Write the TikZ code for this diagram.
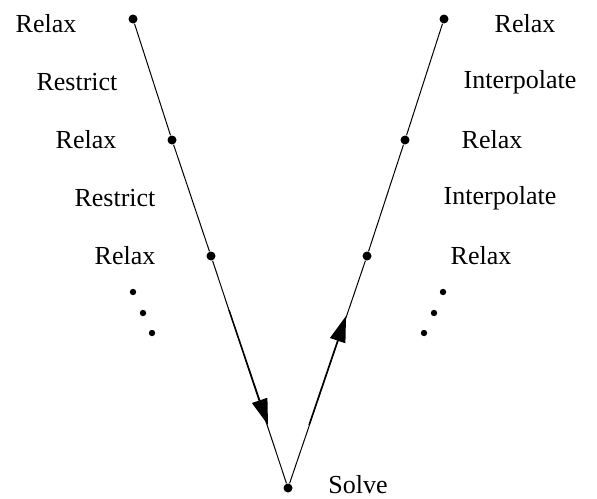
\documentclass[tikz,border=0pt]{standalone}
\usepackage{fontspec}
\setmainfont{Liberation Serif}
\usetikzlibrary{arrows.meta}
\begin{document}
\begin{tikzpicture}[x=0.5pt,y=-0.5pt,
  dot/.style={circle,fill=black,inner sep=0pt,minimum size=4.5pt},
  sdot/.style={circle,fill=black,inner sep=0pt,minimum size=3.2pt},
  lab/.style={font=\fontsize{13}{15}\selectfont,inner sep=0pt},
  ln/.style={line width=0.5pt},
  arr/.style={line width=0.7pt,-{Triangle[length=13pt,width=8pt]}}]
\path[use as bounding box] (0,0) rectangle (597,498);
\node[dot] (l1) at (133,19) {};
\node[dot] (l2) at (172,140) {};
\node[dot] (l3) at (211,256) {};
\node[dot] (b) at (288,488) {};
\node[dot] (r1) at (444,19) {};
\node[dot] (r2) at (405,140) {};
\node[dot] (r3) at (367,256) {};
\draw[ln] (l1) -- (l2) -- (l3) -- (b) -- (r3) -- (r2) -- (r1);
\coordinate (la) at (229,310);
\coordinate (lb) at (268,425);
\coordinate (ra) at (309,425);
\coordinate (rb) at (346,316);
\draw[arr] (la) -- (lb);
\draw[arr] (ra) -- (rb);
\node[sdot] (e1) at (133,292) {};
\node[sdot] (e2) at (143,313) {};
\node[sdot] (e3) at (152,333) {};
\node[sdot] (f1) at (443,292) {};
\node[sdot] (f2) at (434,313) {};
\node[sdot] (f3) at (424,333) {};
\node[lab] (t1) at (46,24) {Relax};
\node[lab] (t2) at (77,82) {Restrict};
\node[lab] (t3) at (86,140) {Relax};
\node[lab] (t4) at (115,198) {Restrict};
\node[lab] (t5) at (125,256) {Relax};
\node[lab] (s1) at (525,24) {Relax};
\node[lab] (s2) at (520,82) {Interpolate};
\node[lab] (s3) at (492,140) {Relax};
\node[lab] (s4) at (500,198) {Interpolate};
\node[lab] (s5) at (481,256) {Relax};
\node[lab,anchor=base west] (sv) at (328,493) {Solve};
\end{tikzpicture}
\end{document}
